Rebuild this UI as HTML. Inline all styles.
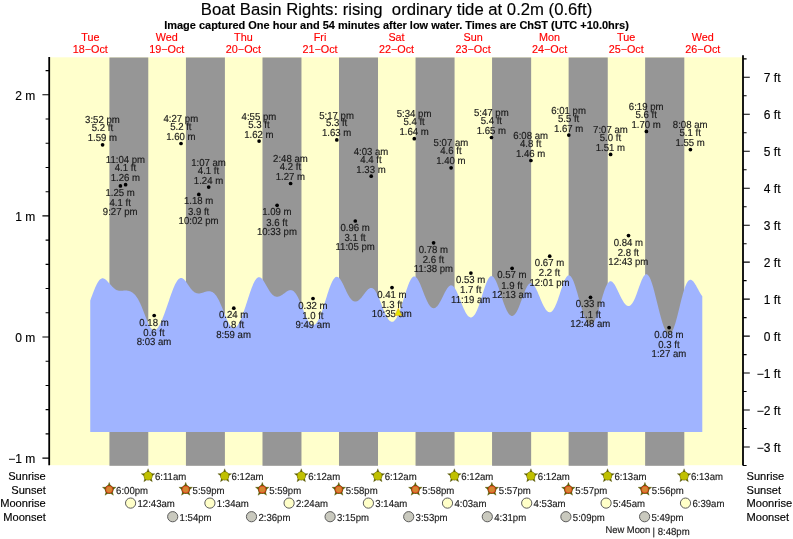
<!DOCTYPE html>
<html lang="en">
<head>
<meta charset="utf-8">
<title>Boat Basin Rights tide chart</title>
<style>
html,body{margin:0;padding:0;background:#fff;}
body{width:793px;height:539px;overflow:hidden;}
svg{display:block;}
text{font-family:"Liberation Sans", sans-serif;fill:#000;stroke:#000;stroke-width:0.15px;}
.t{font-size:16.7px;text-anchor:middle;white-space:pre;}
.s{font-size:10.97px;font-weight:bold;text-anchor:middle;}
.d{font-size:10.8px;fill:#ff0000;stroke:#ff0000;text-anchor:middle;}
.al{font-size:12px;text-anchor:end;}
.ar{font-size:12px;text-anchor:end;}
.rl{font-size:11.1px;text-anchor:end;}
.rr{font-size:11.1px;text-anchor:start;}
.a{font-size:9.6px;text-anchor:middle;fill:#1a1a1a;text-rendering:geometricPrecision;stroke:#1a1a1a;stroke-width:0.15px;}
.m{font-size:9.6px;text-anchor:start;fill:#1a1a1a;text-rendering:geometricPrecision;stroke:#1a1a1a;stroke-width:0.15px;}
.n{font-size:9.4px;text-anchor:end;fill:#1a1a1a;text-rendering:geometricPrecision;stroke:#1a1a1a;stroke-width:0.15px;}
</style>
</head>
<body>
<svg width="793" height="539" viewBox="0 0 793 539">
<rect x="0" y="0" width="793" height="539" fill="#ffffff"/>
<g>
<rect x="49.2" y="57.3" width="693.80" height="407.90" fill="#ffffcc"/>
<rect x="109.42" y="57.5" width="38.86" height="408.30" fill="#969696"/>
<rect x="185.93" y="57.5" width="38.97" height="408.30" fill="#969696"/>
<rect x="262.49" y="57.5" width="38.97" height="408.30" fill="#969696"/>
<rect x="338.99" y="57.5" width="39.02" height="408.30" fill="#969696"/>
<rect x="415.55" y="57.5" width="39.02" height="408.30" fill="#969696"/>
<rect x="492.06" y="57.5" width="39.08" height="408.30" fill="#969696"/>
<rect x="568.62" y="57.5" width="39.13" height="408.30" fill="#969696"/>
<rect x="645.13" y="57.5" width="39.18" height="408.30" fill="#969696"/>
</g>
<path d="M90.25,431.9L90.25,300.46L90.28,300.46L90.72,299.25L91.15,298.04L91.59,296.84L92.03,295.65L92.47,294.47L92.90,293.31L93.34,292.17L93.78,291.05L94.22,289.95L94.65,288.88L95.09,287.85L95.53,286.85L95.97,285.89L96.40,284.98L96.84,284.11L97.28,283.29L97.72,282.52L98.15,281.82L98.59,281.17L99.03,280.58L99.47,280.06L99.90,279.61L100.34,279.22L100.78,278.90L101.22,278.65L101.65,278.47L102.09,278.36L102.53,278.32L102.97,278.33L103.40,278.41L103.84,278.55L104.28,278.74L104.72,278.99L105.15,279.27L105.59,279.60L106.03,279.96L106.47,280.35L106.90,280.77L107.34,281.21L107.78,281.67L108.22,282.15L108.65,282.63L109.09,283.12L109.53,283.62L109.97,284.11L110.40,284.60L110.84,285.09L111.28,285.57L111.72,286.03L112.15,286.49L112.59,286.93L113.03,287.35L113.47,287.75L113.90,288.14L114.34,288.50L114.78,288.84L115.22,289.15L115.65,289.43L116.09,289.70L116.53,289.93L116.97,290.14L117.40,290.32L117.84,290.47L118.28,290.60L118.72,290.70L119.15,290.77L119.59,290.82L120.03,290.85L120.47,290.86L120.90,290.86L121.34,290.84L121.78,290.81L122.22,290.76L122.65,290.70L123.09,290.64L123.53,290.58L123.97,290.54L124.40,290.51L124.84,290.50L125.28,290.49L125.72,290.49L126.15,290.51L126.59,290.53L127.03,290.57L127.47,290.63L127.90,290.71L128.34,290.80L128.78,290.91L129.22,291.04L129.65,291.19L130.09,291.36L130.53,291.54L130.97,291.76L131.40,291.99L131.84,292.25L132.28,292.53L132.72,292.84L133.15,293.17L133.59,293.54L134.03,293.94L134.47,294.36L134.90,294.83L135.34,295.32L135.78,295.86L136.22,296.42L136.65,297.04L137.09,297.68L137.53,298.37L137.97,299.10L138.40,299.86L138.84,300.67L139.28,301.52L139.72,302.41L140.15,303.33L140.59,304.29L141.03,305.28L141.47,306.31L141.90,307.36L142.34,308.44L142.78,309.54L143.22,310.66L143.65,311.79L144.09,312.93L144.53,314.08L144.97,315.22L145.40,316.36L145.84,317.49L146.28,318.61L146.72,319.70L147.15,320.76L147.59,321.80L148.03,322.79L148.47,323.74L148.90,324.65L149.34,325.50L149.78,326.29L150.22,327.03L150.65,327.69L151.09,328.29L151.53,328.82L151.97,329.27L152.40,329.64L152.84,329.94L153.28,330.16L153.72,330.30L154.15,330.35L154.59,330.33L155.03,330.23L155.47,330.04L155.90,329.78L156.34,329.45L156.78,329.05L157.22,328.58L157.65,328.04L158.09,327.44L158.53,326.78L158.97,326.06L159.40,325.29L159.84,324.47L160.28,323.60L160.72,322.69L161.15,321.74L161.59,320.74L162.03,319.72L162.47,318.65L162.90,317.56L163.34,316.44L163.78,315.30L164.22,314.13L164.65,312.94L165.09,311.73L165.53,310.51L165.97,309.27L166.40,308.02L166.84,306.76L167.28,305.50L167.71,304.22L168.15,302.95L168.59,301.67L169.03,300.39L169.46,299.12L169.90,297.85L170.34,296.59L170.78,295.35L171.21,294.12L171.65,292.91L172.09,291.73L172.53,290.57L172.96,289.44L173.40,288.34L173.84,287.28L174.28,286.26L174.71,285.28L175.15,284.35L175.59,283.47L176.03,282.65L176.46,281.88L176.90,281.18L177.34,280.54L177.78,279.97L178.21,279.46L178.65,279.03L179.09,278.67L179.53,278.38L179.96,278.16L180.40,278.02L180.84,277.95L181.28,277.96L181.71,278.03L182.15,278.16L182.59,278.37L183.03,278.63L183.46,278.96L183.90,279.33L184.34,279.76L184.78,280.23L185.21,280.74L185.65,281.29L186.09,281.87L186.53,282.47L186.96,283.09L187.40,283.73L187.84,284.38L188.28,285.02L188.71,285.67L189.15,286.31L189.59,286.93L190.03,287.55L190.46,288.14L190.90,288.70L191.34,289.25L191.78,289.76L192.21,290.24L192.65,290.69L193.09,291.10L193.53,291.48L193.96,291.82L194.40,292.13L194.84,292.40L195.28,292.63L195.71,292.84L196.15,293.01L196.59,293.15L197.03,293.26L197.46,293.34L197.90,293.40L198.34,293.43L198.78,293.44L199.21,293.43L199.65,293.40L200.09,293.35L200.53,293.28L200.96,293.19L201.40,293.08L201.84,292.96L202.28,292.82L202.71,292.68L203.15,292.54L203.59,292.39L204.03,292.24L204.46,292.09L204.90,291.94L205.34,291.81L205.78,291.68L206.21,291.56L206.65,291.46L207.09,291.38L207.53,291.31L207.96,291.26L208.40,291.24L208.84,291.23L209.28,291.25L209.71,291.29L210.15,291.36L210.59,291.45L211.03,291.57L211.46,291.72L211.90,291.90L212.34,292.12L212.78,292.37L213.21,292.66L213.65,292.99L214.09,293.36L214.53,293.78L214.96,294.24L215.40,294.74L215.84,295.29L216.28,295.87L216.71,296.51L217.15,297.20L217.59,297.92L218.03,298.69L218.46,299.50L218.90,300.35L219.34,301.25L219.78,302.17L220.21,303.14L220.65,304.13L221.09,305.15L221.53,306.20L221.96,307.27L222.40,308.36L222.84,309.46L223.28,310.57L223.71,311.68L224.15,312.79L224.59,313.90L225.03,315.00L225.46,316.09L225.90,317.15L226.34,318.19L226.78,319.21L227.21,320.19L227.65,321.13L228.09,322.03L228.53,322.87L228.96,323.67L229.40,324.42L229.84,325.10L230.28,325.72L230.71,326.27L231.15,326.76L231.59,327.18L232.03,327.52L232.46,327.79L232.90,327.98L233.34,328.10L233.78,328.14L234.21,328.10L234.65,327.98L235.09,327.80L235.53,327.53L235.96,327.19L236.40,326.79L236.84,326.31L237.28,325.77L237.71,325.16L238.15,324.50L238.59,323.77L239.03,322.99L239.46,322.15L239.90,321.26L240.34,320.32L240.78,319.34L241.21,318.31L241.65,317.24L242.09,316.13L242.53,314.99L242.96,313.81L243.40,312.60L243.84,311.36L244.27,310.10L244.71,308.81L245.15,307.51L245.59,306.18L246.02,304.85L246.46,303.50L246.90,302.15L247.34,300.79L247.77,299.43L248.21,298.07L248.65,296.73L249.09,295.39L249.52,294.07L249.96,292.77L250.40,291.49L250.84,290.25L251.27,289.03L251.71,287.85L252.15,286.72L252.59,285.63L253.02,284.60L253.46,283.61L253.90,282.69L254.34,281.83L254.77,281.03L255.21,280.30L255.65,279.65L256.09,279.07L256.52,278.57L256.96,278.14L257.40,277.79L257.84,277.53L258.27,277.34L258.71,277.23L259.15,277.21L259.59,277.26L260.02,277.38L260.46,277.58L260.90,277.85L261.34,278.19L261.77,278.60L262.21,279.06L262.65,279.59L263.09,280.17L263.52,280.79L263.96,281.45L264.40,282.15L264.84,282.88L265.27,283.64L265.71,284.41L266.15,285.19L266.59,285.98L267.02,286.77L267.46,287.55L267.90,288.32L268.34,289.08L268.77,289.81L269.21,290.52L269.65,291.20L270.09,291.85L270.52,292.47L270.96,293.04L271.40,293.58L271.84,294.07L272.27,294.52L272.71,294.93L273.15,295.30L273.59,295.62L274.02,295.91L274.46,296.14L274.90,296.34L275.34,296.50L275.77,296.62L276.21,296.70L276.65,296.75L277.09,296.76L277.52,296.75L277.96,296.69L278.40,296.61L278.84,296.50L279.27,296.36L279.71,296.19L280.15,296.00L280.59,295.78L281.02,295.54L281.46,295.29L281.90,295.01L282.34,294.73L282.77,294.42L283.21,294.11L283.65,293.79L284.09,293.47L284.52,293.14L284.96,292.82L285.40,292.49L285.84,292.18L286.27,291.87L286.71,291.58L287.15,291.31L287.59,291.05L288.02,290.82L288.46,290.62L288.90,290.45L289.34,290.31L289.77,290.21L290.21,290.14L290.65,290.12L291.09,290.15L291.52,290.22L291.96,290.34L292.40,290.51L292.84,290.73L293.27,291.01L293.71,291.33L294.15,291.71L294.59,292.16L295.02,292.65L295.46,293.20L295.90,293.80L296.34,294.45L296.77,295.17L297.21,295.92L297.65,296.73L298.09,297.58L298.52,298.48L298.96,299.41L299.40,300.39L299.84,301.39L300.27,302.42L300.71,303.48L301.15,304.56L301.59,305.65L302.02,306.76L302.46,307.87L302.90,308.99L303.34,310.10L303.77,311.21L304.21,312.30L304.65,313.38L305.09,314.43L305.52,315.46L305.96,316.45L306.40,317.41L306.84,318.34L307.27,319.21L307.71,320.04L308.15,320.82L308.59,321.54L309.02,322.21L309.46,322.81L309.90,323.35L310.34,323.83L310.77,324.23L311.21,324.57L311.65,324.83L312.09,325.02L312.52,325.14L312.96,325.19L313.40,325.15L313.84,325.05L314.27,324.87L314.71,324.61L315.15,324.28L315.59,323.88L316.02,323.41L316.46,322.88L316.90,322.28L317.34,321.61L317.77,320.88L318.21,320.09L318.65,319.25L319.09,318.34L319.52,317.38L319.96,316.38L320.40,315.31L320.83,314.21L321.27,313.06L321.71,311.88L322.15,310.65L322.58,309.39L323.02,308.10L323.46,306.78L323.90,305.44L324.33,304.08L324.77,302.71L325.21,301.32L325.65,299.92L326.08,298.53L326.52,297.13L326.96,295.75L327.40,294.37L327.83,293.02L328.27,291.68L328.71,290.37L329.15,289.10L329.58,287.87L330.02,286.68L330.46,285.53L330.90,284.44L331.33,283.41L331.77,282.44L332.21,281.54L332.65,280.71L333.08,279.95L333.52,279.27L333.96,278.67L334.40,278.15L334.83,277.72L335.27,277.37L335.71,277.11L336.15,276.94L336.58,276.85L337.02,276.85L337.46,276.93L337.90,277.10L338.33,277.35L338.77,277.68L339.21,278.09L339.65,278.56L340.08,279.11L340.52,279.73L340.96,280.40L341.40,281.12L341.83,281.90L342.27,282.71L342.71,283.57L343.15,284.46L343.58,285.36L344.02,286.29L344.46,287.23L344.90,288.18L345.33,289.12L345.77,290.06L346.21,290.99L346.65,291.89L347.08,292.78L347.52,293.64L347.96,294.47L348.40,295.26L348.83,296.02L349.27,296.73L349.71,297.40L350.15,298.03L350.58,298.60L351.02,299.13L351.46,299.60L351.90,300.03L352.33,300.40L352.77,300.72L353.21,300.99L353.65,301.20L354.08,301.37L354.52,301.48L354.96,301.55L355.40,301.56L355.83,301.53L356.27,301.45L356.71,301.33L357.15,301.16L357.58,300.95L358.02,300.69L358.46,300.40L358.90,300.07L359.33,299.70L359.77,299.30L360.21,298.87L360.65,298.41L361.08,297.92L361.52,297.41L361.96,296.88L362.40,296.33L362.83,295.76L363.27,295.19L363.71,294.61L364.15,294.02L364.58,293.44L365.02,292.86L365.46,292.30L365.90,291.75L366.33,291.22L366.77,290.71L367.21,290.23L367.65,289.78L368.08,289.37L368.52,289.01L368.96,288.69L369.40,288.42L369.83,288.20L370.27,288.04L370.71,287.94L371.15,287.91L371.58,287.94L372.02,288.04L372.46,288.20L372.90,288.43L373.33,288.73L373.77,289.10L374.21,289.54L374.65,290.04L375.08,290.61L375.52,291.25L375.96,291.94L376.40,292.70L376.83,293.51L377.27,294.37L377.71,295.28L378.15,296.24L378.58,297.23L379.02,298.27L379.46,299.33L379.90,300.42L380.33,301.53L380.77,302.65L381.21,303.78L381.65,304.92L382.08,306.06L382.52,307.19L382.96,308.31L383.40,309.41L383.83,310.49L384.27,311.55L384.71,312.58L385.15,313.56L385.58,314.51L386.02,315.42L386.46,316.28L386.90,317.08L387.33,317.84L387.77,318.53L388.21,319.17L388.65,319.74L389.08,320.25L389.52,320.69L389.96,321.06L390.40,321.37L390.83,321.60L391.27,321.76L391.71,321.85L392.15,321.86L392.58,321.79L393.02,321.66L393.46,321.44L393.90,321.16L394.33,320.80L394.77,320.36L395.21,319.86L395.65,319.28L396.08,318.63L396.52,317.92L396.96,317.14L397.39,316.30L397.83,315.39L398.27,314.43L398.71,313.41L399.14,312.33L399.58,311.21L400.02,310.04L400.46,308.82L400.89,307.56L401.33,306.27L401.77,304.94L402.21,303.59L402.64,302.22L403.08,300.82L403.52,299.42L403.96,298.00L404.39,296.59L404.83,295.17L405.27,293.77L405.71,292.39L406.14,291.03L406.58,289.69L407.02,288.39L407.46,287.13L407.89,285.92L408.33,284.75L408.77,283.65L409.21,282.61L409.64,281.64L410.08,280.74L410.52,279.91L410.96,279.17L411.39,278.52L411.83,277.94L412.27,277.47L412.71,277.08L413.14,276.79L413.58,276.59L414.02,276.49L414.46,276.48L414.89,276.57L415.33,276.74L415.77,277.02L416.21,277.38L416.64,277.83L417.08,278.37L417.52,278.98L417.96,279.67L418.39,280.43L418.83,281.26L419.27,282.15L419.71,283.09L420.14,284.07L420.58,285.10L421.02,286.16L421.46,287.26L421.89,288.37L422.33,289.50L422.77,290.64L423.21,291.78L423.64,292.92L424.08,294.05L424.52,295.16L424.96,296.25L425.39,297.32L425.83,298.36L426.27,299.36L426.71,300.32L427.14,301.24L427.58,302.11L428.02,302.94L428.46,303.71L428.89,304.42L429.33,305.08L429.77,305.68L430.21,306.21L430.64,306.69L431.08,307.10L431.52,307.45L431.96,307.73L432.39,307.94L432.83,308.10L433.27,308.18L433.71,308.20L434.14,308.16L434.58,308.06L435.02,307.89L435.46,307.66L435.89,307.37L436.33,307.02L436.77,306.61L437.21,306.14L437.64,305.63L438.08,305.06L438.52,304.44L438.96,303.78L439.39,303.07L439.83,302.33L440.27,301.55L440.71,300.74L441.14,299.90L441.58,299.04L442.02,298.17L442.46,297.28L442.89,296.38L443.33,295.48L443.77,294.59L444.21,293.71L444.64,292.84L445.08,291.99L445.52,291.17L445.96,290.38L446.39,289.64L446.83,288.93L447.27,288.28L447.71,287.68L448.14,287.14L448.58,286.66L449.02,286.25L449.46,285.91L449.89,285.65L450.33,285.46L450.77,285.35L451.21,285.33L451.64,285.39L452.08,285.52L452.52,285.74L452.96,286.04L453.39,286.42L453.83,286.87L454.27,287.40L454.71,288.00L455.14,288.67L455.58,289.40L456.02,290.20L456.46,291.04L456.89,291.95L457.33,292.89L457.77,293.88L458.21,294.91L458.64,295.96L459.08,297.04L459.52,298.14L459.96,299.25L460.39,300.37L460.83,301.49L461.27,302.60L461.71,303.71L462.14,304.80L462.58,305.88L463.02,306.92L463.46,307.94L463.89,308.93L464.33,309.87L464.77,310.78L465.21,311.64L465.64,312.45L466.08,313.21L466.52,313.92L466.96,314.56L467.39,315.15L467.83,315.67L468.27,316.13L468.71,316.52L469.14,316.85L469.58,317.10L470.02,317.28L470.46,317.40L470.89,317.43L471.33,317.40L471.77,317.29L472.21,317.10L472.64,316.84L473.08,316.50L473.52,316.08L473.95,315.60L474.39,315.04L474.83,314.40L475.27,313.70L475.70,312.92L476.14,312.07L476.58,311.17L477.02,310.19L477.45,309.16L477.89,308.07L478.33,306.92L478.77,305.73L479.20,304.49L479.64,303.21L480.08,301.90L480.52,300.56L480.95,299.19L481.39,297.80L481.83,296.41L482.27,295.00L482.70,293.60L483.14,292.21L483.58,290.83L484.02,289.48L484.45,288.16L484.89,286.87L485.33,285.63L485.77,284.44L486.20,283.30L486.64,282.24L487.08,281.23L487.52,280.31L487.95,279.47L488.39,278.71L488.83,278.05L489.27,277.47L489.70,276.99L490.14,276.62L490.58,276.34L491.02,276.17L491.45,276.10L491.89,276.13L492.33,276.28L492.77,276.51L493.20,276.85L493.64,277.29L494.08,277.82L494.52,278.44L494.95,279.15L495.39,279.94L495.83,280.81L496.27,281.75L496.70,282.76L497.14,283.83L497.58,284.96L498.02,286.13L498.45,287.35L498.89,288.60L499.33,289.88L499.77,291.18L500.20,292.50L500.64,293.84L501.08,295.17L501.52,296.50L501.95,297.83L502.39,299.14L502.83,300.43L503.27,301.70L503.70,302.94L504.14,304.14L504.58,305.30L505.02,306.42L505.45,307.50L505.89,308.52L506.33,309.49L506.77,310.40L507.20,311.25L507.64,312.04L508.08,312.76L508.52,313.41L508.95,313.99L509.39,314.50L509.83,314.94L510.27,315.30L510.70,315.58L511.14,315.78L511.58,315.91L512.02,315.96L512.45,315.92L512.89,315.81L513.33,315.62L513.77,315.35L514.20,315.00L514.64,314.58L515.08,314.08L515.52,313.51L515.95,312.87L516.39,312.16L516.83,311.38L517.27,310.54L517.70,309.65L518.14,308.69L518.58,307.69L519.02,306.65L519.45,305.56L519.89,304.43L520.33,303.28L520.77,302.10L521.20,300.91L521.64,299.71L522.08,298.50L522.52,297.29L522.95,296.10L523.39,294.92L523.83,293.76L524.27,292.63L524.70,291.54L525.14,290.49L525.58,289.50L526.02,288.55L526.45,287.67L526.89,286.85L527.33,286.11L527.77,285.44L528.20,284.85L528.64,284.34L529.08,283.92L529.52,283.58L529.95,283.34L530.39,283.18L530.83,283.11L531.27,283.14L531.70,283.26L532.14,283.46L532.58,283.76L533.02,284.13L533.45,284.59L533.89,285.12L534.33,285.73L534.77,286.41L535.20,287.15L535.64,287.94L536.08,288.80L536.52,289.69L536.95,290.63L537.39,291.60L537.83,292.61L538.27,293.63L538.70,294.68L539.14,295.73L539.58,296.79L540.02,297.85L540.45,298.90L540.89,299.95L541.33,300.97L541.77,301.98L542.20,302.96L542.64,303.91L543.08,304.82L543.52,305.70L543.95,306.54L544.39,307.33L544.83,308.07L545.27,308.76L545.70,309.39L546.14,309.97L546.58,310.48L547.02,310.94L547.45,311.33L547.89,311.66L548.33,311.92L548.77,312.10L549.20,312.22L549.64,312.27L550.08,312.24L550.51,312.14L550.95,311.96L551.39,311.71L551.83,311.38L552.26,310.98L552.70,310.50L553.14,309.94L553.58,309.31L554.01,308.61L554.45,307.84L554.89,306.99L555.33,306.08L555.76,305.10L556.20,304.06L556.64,302.97L557.08,301.82L557.51,300.63L557.95,299.39L558.39,298.12L558.83,296.81L559.26,295.48L559.70,294.14L560.14,292.79L560.58,291.43L561.01,290.08L561.45,288.75L561.89,287.43L562.33,286.15L562.76,284.91L563.20,283.71L563.64,282.57L564.08,281.49L564.51,280.47L564.95,279.53L565.39,278.68L565.83,277.91L566.26,277.24L566.70,276.67L567.14,276.19L567.58,275.82L568.01,275.56L568.45,275.40L568.89,275.37L569.33,275.43L569.76,275.61L570.20,275.90L570.64,276.30L571.08,276.80L571.51,277.41L571.95,278.11L572.39,278.91L572.83,279.81L573.26,280.78L573.70,281.85L574.14,282.99L574.58,284.20L575.01,285.48L575.45,286.81L575.89,288.20L576.33,289.63L576.76,291.09L577.20,292.60L577.64,294.12L578.08,295.67L578.51,297.22L578.95,298.78L579.39,300.35L579.83,301.90L580.26,303.44L580.70,304.96L581.14,306.46L581.58,307.93L582.01,309.37L582.45,310.76L582.89,312.12L583.33,313.42L583.76,314.67L584.20,315.86L584.64,317.00L585.08,318.07L585.51,319.07L585.95,320.00L586.39,320.86L586.83,321.64L587.26,322.34L587.70,322.96L588.14,323.49L588.58,323.94L589.01,324.29L589.45,324.56L589.89,324.73L590.33,324.81L590.76,324.80L591.20,324.68L591.64,324.47L592.08,324.18L592.51,323.78L592.95,323.29L593.39,322.71L593.83,322.03L594.26,321.28L594.70,320.43L595.14,319.50L595.58,318.50L596.01,317.42L596.45,316.27L596.89,315.05L597.33,313.78L597.76,312.45L598.20,311.07L598.64,309.65L599.08,308.20L599.51,306.72L599.95,305.22L600.39,303.71L600.83,302.19L601.26,300.68L601.70,299.18L602.14,297.69L602.58,296.23L603.01,294.81L603.45,293.42L603.89,292.09L604.33,290.81L604.76,289.59L605.20,288.43L605.64,287.35L606.08,286.35L606.51,285.43L606.95,284.60L607.39,283.85L607.83,283.20L608.26,282.64L608.70,282.17L609.14,281.81L609.58,281.53L610.01,281.36L610.45,281.28L610.89,281.28L611.33,281.39L611.76,281.58L612.20,281.85L612.64,282.21L613.08,282.64L613.51,283.15L613.95,283.73L614.39,284.36L614.83,285.05L615.26,285.79L615.70,286.57L616.14,287.40L616.58,288.25L617.01,289.13L617.45,290.04L617.89,290.96L618.33,291.88L618.76,292.82L619.20,293.75L619.64,294.67L620.08,295.59L620.51,296.49L620.95,297.37L621.39,298.23L621.83,299.05L622.26,299.85L622.70,300.62L623.14,301.34L623.58,302.02L624.01,302.66L624.45,303.25L624.89,303.79L625.33,304.27L625.76,304.70L626.20,305.08L626.64,305.39L627.07,305.64L627.51,305.82L627.95,305.94L628.39,305.99L628.82,305.97L629.26,305.88L629.70,305.73L630.14,305.49L630.57,305.19L631.01,304.81L631.45,304.36L631.89,303.84L632.32,303.24L632.76,302.57L633.20,301.83L633.64,301.02L634.07,300.15L634.51,299.22L634.95,298.22L635.39,297.18L635.82,296.09L636.26,294.95L636.70,293.77L637.14,292.57L637.57,291.34L638.01,290.10L638.45,288.85L638.89,287.60L639.32,286.35L639.76,285.13L640.20,283.93L640.64,282.77L641.07,281.65L641.51,280.58L641.95,279.57L642.39,278.63L642.82,277.76L643.26,276.98L643.70,276.28L644.14,275.68L644.57,275.18L645.01,274.78L645.45,274.50L645.89,274.32L646.32,274.25L646.76,274.31L647.20,274.47L647.64,274.76L648.07,275.16L648.51,275.66L648.95,276.29L649.39,277.03L649.82,277.86L650.26,278.81L650.70,279.85L651.14,280.98L651.57,282.21L652.01,283.51L652.45,284.89L652.89,286.34L653.32,287.85L653.76,289.43L654.20,291.05L654.64,292.72L655.07,294.42L655.51,296.15L655.95,297.91L656.39,299.68L656.82,301.46L657.26,303.25L657.70,305.03L658.14,306.81L658.57,308.57L659.01,310.31L659.45,312.02L659.89,313.71L660.32,315.36L660.76,316.96L661.20,318.52L661.64,320.03L662.07,321.48L662.51,322.88L662.95,324.20L663.39,325.47L663.82,326.66L664.26,327.77L664.70,328.80L665.14,329.76L665.57,330.62L666.01,331.40L666.45,332.08L666.89,332.66L667.32,333.15L667.76,333.53L668.20,333.81L668.64,333.98L669.07,334.04L669.51,333.99L669.95,333.84L670.39,333.56L670.82,333.19L671.26,332.69L671.70,332.09L672.14,331.39L672.57,330.57L673.01,329.66L673.45,328.64L673.89,327.53L674.32,326.33L674.76,325.03L675.20,323.66L675.64,322.21L676.07,320.69L676.51,319.11L676.95,317.47L677.39,315.79L677.82,314.06L678.26,312.30L678.70,310.51L679.14,308.72L679.57,306.91L680.01,305.10L680.45,303.31L680.89,301.53L681.32,299.78L681.76,298.06L682.20,296.39L682.64,294.77L683.07,293.20L683.51,291.71L683.95,290.27L684.39,288.93L684.82,287.66L685.26,286.47L685.70,285.38L686.14,284.38L686.57,283.48L687.01,282.68L687.45,281.97L687.89,281.37L688.32,280.86L688.76,280.45L689.20,280.15L689.64,279.94L690.07,279.82L690.51,279.79L690.95,279.85L691.39,280.00L691.82,280.23L692.26,280.53L692.70,280.91L693.14,281.35L693.57,281.85L694.01,282.41L694.45,283.02L694.89,283.68L695.32,284.38L695.76,285.10L696.20,285.86L696.64,286.64L697.07,287.43L697.51,288.23L697.95,289.04L698.39,289.84L698.82,290.64L699.26,291.44L699.70,292.21L700.14,292.97L700.57,293.71L701.01,294.42L701.45,295.11L701.89,295.76L702.3,296.34L702.3,431.9Z" fill="#a0b4ff"/>
<g stroke="#000" fill="none">
<path d="M49.2,57.0V465.2" stroke-width="1.8"/>
<path d="M743.0,55.3V465.5" stroke-width="1.8"/>
<path d="M49.20,458.10h-6.8M49.20,433.88h-3.6M49.20,409.66h-3.6M49.20,385.44h-3.6M49.20,361.22h-3.6M49.20,337.00h-6.8M49.20,312.78h-3.6M49.20,288.56h-3.6M49.20,264.34h-3.6M49.20,240.12h-3.6M49.20,215.90h-6.8M49.20,191.68h-3.6M49.20,167.46h-3.6M49.20,143.24h-3.6M49.20,119.02h-3.6M49.20,94.80h-6.8M49.20,70.58h-3.6M743.00,465.50h3.6M743.00,447.01h6.8M743.00,428.53h3.6M743.00,410.04h6.8M743.00,391.56h3.6M743.00,373.07h6.8M743.00,354.59h3.6M743.00,336.10h6.8M743.00,317.62h3.6M743.00,299.13h6.8M743.00,280.65h3.6M743.00,262.16h6.8M743.00,243.68h3.6M743.00,225.19h6.8M743.00,206.71h3.6M743.00,188.22h6.8M743.00,169.74h3.6M743.00,151.25h6.8M743.00,132.77h3.6M743.00,114.28h6.8M743.00,95.80h3.6M743.00,77.31h6.8M743.00,58.83h3.6" stroke-width="1.1"/>
</g>
<text class="al" x="35.3" y="463.1">−1 m</text>
<text class="al" x="35.3" y="342.0">0 m</text>
<text class="al" x="35.3" y="220.9">1 m</text>
<text class="al" x="35.3" y="99.8">2 m</text>
<text class="ar" x="780.5" y="452.0">−3 ft</text>
<text class="ar" x="780.5" y="415.0">−2 ft</text>
<text class="ar" x="780.5" y="378.1">−1 ft</text>
<text class="ar" x="780.5" y="341.1">0 ft</text>
<text class="ar" x="780.5" y="304.1">1 ft</text>
<text class="ar" x="780.5" y="267.2">2 ft</text>
<text class="ar" x="780.5" y="230.2">3 ft</text>
<text class="ar" x="780.5" y="193.2">4 ft</text>
<text class="ar" x="780.5" y="156.3">5 ft</text>
<text class="ar" x="780.5" y="119.3">6 ft</text>
<text class="ar" x="780.5" y="82.3">7 ft</text>
<text class="t" x="396.5" y="14.7" xml:space="preserve">Boat Basin Rights: rising  ordinary tide at 0.2m (0.6ft)</text>
<text class="s" x="396.5" y="28.6">Image captured One hour and 54 minutes after low water. Times are ChST (UTC +10.0hrs)</text>
<text class="d" transform="translate(90.3 41.2) scale(1 1.08)">Tue</text>
<text class="d" x="90.3" y="52.8">18−Oct</text>
<text class="d" transform="translate(166.8 41.2) scale(1 1.08)">Wed</text>
<text class="d" x="166.8" y="52.8">19−Oct</text>
<text class="d" transform="translate(243.4 41.2) scale(1 1.08)">Thu</text>
<text class="d" x="243.4" y="52.8">20−Oct</text>
<text class="d" transform="translate(320.0 41.2) scale(1 1.08)">Fri</text>
<text class="d" x="320.0" y="52.8">21−Oct</text>
<text class="d" transform="translate(396.5 41.2) scale(1 1.08)">Sat</text>
<text class="d" x="396.5" y="52.8">22−Oct</text>
<text class="d" transform="translate(473.1 41.2) scale(1 1.08)">Sun</text>
<text class="d" x="473.1" y="52.8">23−Oct</text>
<text class="d" transform="translate(549.6 41.2) scale(1 1.08)">Mon</text>
<text class="d" x="549.6" y="52.8">24−Oct</text>
<text class="d" transform="translate(626.2 41.2) scale(1 1.08)">Tue</text>
<text class="d" x="626.2" y="52.8">25−Oct</text>
<text class="d" transform="translate(702.8 41.2) scale(1 1.08)">Wed</text>
<text class="d" x="702.8" y="52.8">26−Oct</text>
<circle cx="102.6" cy="144.8" r="1.85" fill="#000"/>
<text class="a" transform="translate(102.4 141.2) scale(1 1.06)">1.59 m</text>
<text class="a" transform="translate(102.4 131.3) scale(1 1.06)">5.2 ft</text>
<text class="a" transform="translate(102.4 123.4) scale(1 1.06)">3:52 pm</text>
<circle cx="120.4" cy="185.9" r="1.85" fill="#000"/>
<text class="a" transform="translate(120.2 195.9) scale(1 1.06)">1.25 m</text>
<text class="a" transform="translate(120.2 206.1) scale(1 1.06)">4.1 ft</text>
<text class="a" transform="translate(120.2 215.3) scale(1 1.06)">9:27 pm</text>
<circle cx="125.6" cy="184.7" r="1.85" fill="#000"/>
<text class="a" transform="translate(125.4 181.1) scale(1 1.06)">1.26 m</text>
<text class="a" transform="translate(125.4 171.2) scale(1 1.06)">4.1 ft</text>
<text class="a" transform="translate(125.4 163.3) scale(1 1.06)">11:04 pm</text>
<circle cx="154.2" cy="315.5" r="1.85" fill="#000"/>
<text class="a" transform="translate(154.0 325.5) scale(1 1.06)">0.18 m</text>
<text class="a" transform="translate(154.0 335.7) scale(1 1.06)">0.6 ft</text>
<text class="a" transform="translate(154.0 344.9) scale(1 1.06)">8:03 am</text>
<circle cx="181.0" cy="143.5" r="1.85" fill="#000"/>
<text class="a" transform="translate(180.8 139.9) scale(1 1.06)">1.60 m</text>
<text class="a" transform="translate(180.8 130.0) scale(1 1.06)">5.2 ft</text>
<text class="a" transform="translate(180.8 122.1) scale(1 1.06)">4:27 pm</text>
<circle cx="198.8" cy="194.4" r="1.85" fill="#000"/>
<text class="a" transform="translate(198.6 204.4) scale(1 1.06)">1.18 m</text>
<text class="a" transform="translate(198.6 214.6) scale(1 1.06)">3.9 ft</text>
<text class="a" transform="translate(198.6 223.8) scale(1 1.06)">10:02 pm</text>
<circle cx="208.7" cy="187.1" r="1.85" fill="#000"/>
<text class="a" transform="translate(208.5 183.5) scale(1 1.06)">1.24 m</text>
<text class="a" transform="translate(208.5 173.6) scale(1 1.06)">4.1 ft</text>
<text class="a" transform="translate(208.5 165.7) scale(1 1.06)">1:07 am</text>
<circle cx="233.8" cy="308.2" r="1.85" fill="#000"/>
<text class="a" transform="translate(233.6 318.2) scale(1 1.06)">0.24 m</text>
<text class="a" transform="translate(233.6 328.4) scale(1 1.06)">0.8 ft</text>
<text class="a" transform="translate(233.6 337.6) scale(1 1.06)">8:59 am</text>
<circle cx="259.1" cy="141.1" r="1.85" fill="#000"/>
<text class="a" transform="translate(258.9 137.5) scale(1 1.06)">1.62 m</text>
<text class="a" transform="translate(258.9 127.6) scale(1 1.06)">5.3 ft</text>
<text class="a" transform="translate(258.9 119.7) scale(1 1.06)">4:55 pm</text>
<circle cx="277.1" cy="205.3" r="1.85" fill="#000"/>
<text class="a" transform="translate(276.9 215.3) scale(1 1.06)">1.09 m</text>
<text class="a" transform="translate(276.9 225.5) scale(1 1.06)">3.6 ft</text>
<text class="a" transform="translate(276.9 234.7) scale(1 1.06)">10:33 pm</text>
<circle cx="290.6" cy="183.5" r="1.85" fill="#000"/>
<text class="a" transform="translate(290.4 179.9) scale(1 1.06)">1.27 m</text>
<text class="a" transform="translate(290.4 170.0) scale(1 1.06)">4.2 ft</text>
<text class="a" transform="translate(290.4 162.1) scale(1 1.06)">2:48 am</text>
<circle cx="313.0" cy="298.5" r="1.85" fill="#000"/>
<text class="a" transform="translate(312.8 308.5) scale(1 1.06)">0.32 m</text>
<text class="a" transform="translate(312.8 318.7) scale(1 1.06)">1.0 ft</text>
<text class="a" transform="translate(312.8 327.9) scale(1 1.06)">9:49 am</text>
<circle cx="336.8" cy="139.9" r="1.85" fill="#000"/>
<text class="a" transform="translate(336.6 136.3) scale(1 1.06)">1.63 m</text>
<text class="a" transform="translate(336.6 126.4) scale(1 1.06)">5.3 ft</text>
<text class="a" transform="translate(336.6 118.5) scale(1 1.06)">5:17 pm</text>
<circle cx="355.3" cy="221.0" r="1.85" fill="#000"/>
<text class="a" transform="translate(355.1 231.0) scale(1 1.06)">0.96 m</text>
<text class="a" transform="translate(355.1 241.2) scale(1 1.06)">3.1 ft</text>
<text class="a" transform="translate(355.1 250.4) scale(1 1.06)">11:05 pm</text>
<circle cx="371.2" cy="176.2" r="1.85" fill="#000"/>
<text class="a" transform="translate(371.0 172.6) scale(1 1.06)">1.33 m</text>
<text class="a" transform="translate(371.0 162.7) scale(1 1.06)">4.4 ft</text>
<text class="a" transform="translate(371.0 154.8) scale(1 1.06)">4:03 am</text>
<circle cx="392.0" cy="287.6" r="1.85" fill="#000"/>
<text class="a" transform="translate(391.8 297.6) scale(1 1.06)">0.41 m</text>
<text class="a" transform="translate(391.8 307.8) scale(1 1.06)">1.3 ft</text>
<text class="a" transform="translate(391.8 317.0) scale(1 1.06)">10:35 am</text>
<circle cx="414.3" cy="138.7" r="1.85" fill="#000"/>
<text class="a" transform="translate(414.1 135.1) scale(1 1.06)">1.64 m</text>
<text class="a" transform="translate(414.1 125.2) scale(1 1.06)">5.4 ft</text>
<text class="a" transform="translate(414.1 117.3) scale(1 1.06)">5:34 pm</text>
<circle cx="433.6" cy="242.8" r="1.85" fill="#000"/>
<text class="a" transform="translate(433.4 252.8) scale(1 1.06)">0.78 m</text>
<text class="a" transform="translate(433.4 263.0) scale(1 1.06)">2.6 ft</text>
<text class="a" transform="translate(433.4 272.2) scale(1 1.06)">11:38 pm</text>
<circle cx="451.1" cy="167.8" r="1.85" fill="#000"/>
<text class="a" transform="translate(450.9 164.2) scale(1 1.06)">1.40 m</text>
<text class="a" transform="translate(450.9 154.3) scale(1 1.06)">4.6 ft</text>
<text class="a" transform="translate(450.9 146.4) scale(1 1.06)">5:07 am</text>
<circle cx="470.9" cy="273.1" r="1.85" fill="#000"/>
<text class="a" transform="translate(470.7 283.1) scale(1 1.06)">0.53 m</text>
<text class="a" transform="translate(470.7 293.3) scale(1 1.06)">1.7 ft</text>
<text class="a" transform="translate(470.7 302.5) scale(1 1.06)">11:19 am</text>
<circle cx="491.5" cy="137.5" r="1.85" fill="#000"/>
<text class="a" transform="translate(491.3 133.9) scale(1 1.06)">1.65 m</text>
<text class="a" transform="translate(491.3 124.0) scale(1 1.06)">5.4 ft</text>
<text class="a" transform="translate(491.3 116.1) scale(1 1.06)">5:47 pm</text>
<circle cx="512.1" cy="268.3" r="1.85" fill="#000"/>
<text class="a" transform="translate(511.9 278.3) scale(1 1.06)">0.57 m</text>
<text class="a" transform="translate(511.9 288.5) scale(1 1.06)">1.9 ft</text>
<text class="a" transform="translate(511.9 297.7) scale(1 1.06)">12:13 am</text>
<circle cx="530.9" cy="160.5" r="1.85" fill="#000"/>
<text class="a" transform="translate(530.7 156.9) scale(1 1.06)">1.46 m</text>
<text class="a" transform="translate(530.7 147.0) scale(1 1.06)">4.8 ft</text>
<text class="a" transform="translate(530.7 139.1) scale(1 1.06)">6:08 am</text>
<circle cx="549.7" cy="256.2" r="1.85" fill="#000"/>
<text class="a" transform="translate(549.5 266.2) scale(1 1.06)">0.67 m</text>
<text class="a" transform="translate(549.5 276.4) scale(1 1.06)">2.2 ft</text>
<text class="a" transform="translate(549.5 285.6) scale(1 1.06)">12:01 pm</text>
<circle cx="568.8" cy="135.1" r="1.85" fill="#000"/>
<text class="a" transform="translate(568.6 131.5) scale(1 1.06)">1.67 m</text>
<text class="a" transform="translate(568.6 121.6) scale(1 1.06)">5.5 ft</text>
<text class="a" transform="translate(568.6 113.7) scale(1 1.06)">6:01 pm</text>
<circle cx="590.5" cy="297.3" r="1.85" fill="#000"/>
<text class="a" transform="translate(590.3 307.3) scale(1 1.06)">0.33 m</text>
<text class="a" transform="translate(590.3 317.5) scale(1 1.06)">1.1 ft</text>
<text class="a" transform="translate(590.3 326.7) scale(1 1.06)">12:48 am</text>
<circle cx="610.6" cy="154.4" r="1.85" fill="#000"/>
<text class="a" transform="translate(610.4 150.8) scale(1 1.06)">1.51 m</text>
<text class="a" transform="translate(610.4 140.9) scale(1 1.06)">5.0 ft</text>
<text class="a" transform="translate(610.4 133.0) scale(1 1.06)">7:07 am</text>
<circle cx="628.5" cy="235.6" r="1.85" fill="#000"/>
<text class="a" transform="translate(628.3 245.6) scale(1 1.06)">0.84 m</text>
<text class="a" transform="translate(628.3 255.8) scale(1 1.06)">2.8 ft</text>
<text class="a" transform="translate(628.3 265.0) scale(1 1.06)">12:43 pm</text>
<circle cx="646.4" cy="131.4" r="1.85" fill="#000"/>
<text class="a" transform="translate(646.2 127.8) scale(1 1.06)">1.70 m</text>
<text class="a" transform="translate(646.2 117.9) scale(1 1.06)">5.6 ft</text>
<text class="a" transform="translate(646.2 110.0) scale(1 1.06)">6:19 pm</text>
<circle cx="669.1" cy="327.6" r="1.85" fill="#000"/>
<text class="a" transform="translate(668.9 337.6) scale(1 1.06)">0.08 m</text>
<text class="a" transform="translate(668.9 347.8) scale(1 1.06)">0.3 ft</text>
<text class="a" transform="translate(668.9 357.0) scale(1 1.06)">1:27 am</text>
<circle cx="690.4" cy="149.6" r="1.85" fill="#000"/>
<text class="a" transform="translate(690.2 146.0) scale(1 1.06)">1.55 m</text>
<text class="a" transform="translate(690.2 136.1) scale(1 1.06)">5.1 ft</text>
<text class="a" transform="translate(690.2 128.2) scale(1 1.06)">8:08 am</text>
<polygon points="398.3,308.13 394.70,315.53 401.90,315.53" fill="#e4e400" stroke="#d88a20" stroke-width="0.4"/>
<text class="rl" x="45.8" y="480.0">Sunrise</text>
<text class="rr" x="746.5" y="480.0">Sunrise</text>
<polygon points="148.08,468.70 149.85,473.47 154.93,473.68 150.94,476.83 152.32,481.72 148.08,478.90 143.85,481.72 145.23,476.83 141.24,473.68 146.32,473.47" fill="#5a5a00" stroke="#5a5a00" stroke-width="0.3" stroke-linejoin="miter"/>
<circle cx="148.1" cy="475.9" r="4.5" fill="#6e6e08"/>
<circle cx="148.1" cy="475.9" r="3.9" fill="#c0c000"/>
<text class="m" transform="translate(155.0 480.0) scale(1 1.06)">6:11am</text>
<polygon points="224.70,468.70 226.46,473.47 231.55,473.68 227.55,476.83 228.93,481.72 224.70,478.90 220.47,481.72 221.84,476.83 217.85,473.68 222.93,473.47" fill="#5a5a00" stroke="#5a5a00" stroke-width="0.3" stroke-linejoin="miter"/>
<circle cx="224.7" cy="475.9" r="4.5" fill="#6e6e08"/>
<circle cx="224.7" cy="475.9" r="3.9" fill="#c0c000"/>
<text class="m" transform="translate(231.6 480.0) scale(1 1.06)">6:12am</text>
<polygon points="301.26,468.70 303.02,473.47 308.11,473.68 304.11,476.83 305.49,481.72 301.26,478.90 297.03,481.72 298.40,476.83 294.41,473.68 299.49,473.47" fill="#5a5a00" stroke="#5a5a00" stroke-width="0.3" stroke-linejoin="miter"/>
<circle cx="301.3" cy="475.9" r="4.5" fill="#6e6e08"/>
<circle cx="301.3" cy="475.9" r="3.9" fill="#c0c000"/>
<text class="m" transform="translate(308.2 480.0) scale(1 1.06)">6:12am</text>
<polygon points="377.82,468.70 379.58,473.47 384.67,473.68 380.67,476.83 382.05,481.72 377.82,478.90 373.59,481.72 374.96,476.83 370.97,473.68 376.05,473.47" fill="#5a5a00" stroke="#5a5a00" stroke-width="0.3" stroke-linejoin="miter"/>
<circle cx="377.8" cy="475.9" r="4.5" fill="#6e6e08"/>
<circle cx="377.8" cy="475.9" r="3.9" fill="#c0c000"/>
<text class="m" transform="translate(384.7 480.0) scale(1 1.06)">6:12am</text>
<polygon points="454.38,468.70 456.14,473.47 461.23,473.68 457.23,476.83 458.61,481.72 454.38,478.90 450.15,481.72 451.52,476.83 447.53,473.68 452.61,473.47" fill="#5a5a00" stroke="#5a5a00" stroke-width="0.3" stroke-linejoin="miter"/>
<circle cx="454.4" cy="475.9" r="4.5" fill="#6e6e08"/>
<circle cx="454.4" cy="475.9" r="3.9" fill="#c0c000"/>
<text class="m" transform="translate(461.3 480.0) scale(1 1.06)">6:12am</text>
<polygon points="530.94,468.70 532.70,473.47 537.79,473.68 533.79,476.83 535.17,481.72 530.94,478.90 526.71,481.72 528.08,476.83 524.09,473.68 529.17,473.47" fill="#5a5a00" stroke="#5a5a00" stroke-width="0.3" stroke-linejoin="miter"/>
<circle cx="530.9" cy="475.9" r="4.5" fill="#6e6e08"/>
<circle cx="530.9" cy="475.9" r="3.9" fill="#c0c000"/>
<text class="m" transform="translate(537.8 480.0) scale(1 1.06)">6:12am</text>
<polygon points="607.55,468.70 609.31,473.47 614.40,473.68 610.40,476.83 611.78,481.72 607.55,478.90 603.32,481.72 604.70,476.83 600.70,473.68 605.79,473.47" fill="#5a5a00" stroke="#5a5a00" stroke-width="0.3" stroke-linejoin="miter"/>
<circle cx="607.6" cy="475.9" r="4.5" fill="#6e6e08"/>
<circle cx="607.6" cy="475.9" r="3.9" fill="#c0c000"/>
<text class="m" transform="translate(614.5 480.0) scale(1 1.06)">6:13am</text>
<polygon points="684.11,468.70 685.87,473.47 690.96,473.68 686.96,476.83 688.34,481.72 684.11,478.90 679.88,481.72 681.26,476.83 677.26,473.68 682.35,473.47" fill="#5a5a00" stroke="#5a5a00" stroke-width="0.3" stroke-linejoin="miter"/>
<circle cx="684.1" cy="475.9" r="4.5" fill="#6e6e08"/>
<circle cx="684.1" cy="475.9" r="3.9" fill="#c0c000"/>
<text class="m" transform="translate(691.0 480.0) scale(1 1.06)">6:13am</text>
<text class="rl" x="45.8" y="493.6">Sunset</text>
<text class="rr" x="746.5" y="493.6">Sunset</text>
<polygon points="109.22,482.30 110.98,487.07 116.07,487.28 112.07,490.43 113.45,495.32 109.22,492.50 104.99,495.32 106.37,490.43 102.37,487.28 107.46,487.07" fill="#5a5a00" stroke="#5a5a00" stroke-width="0.3" stroke-linejoin="miter"/>
<circle cx="109.2" cy="489.5" r="4.4" fill="#5a5a00"/>
<circle cx="109.2" cy="489.5" r="3.7" fill="#e23a22"/>
<circle cx="109.2" cy="489.5" r="2.9" fill="#d5872f"/>
<text class="m" transform="translate(116.1 493.6) scale(1 1.06)">6:00pm</text>
<polygon points="185.73,482.30 187.49,487.07 192.57,487.28 188.58,490.43 189.96,495.32 185.73,492.50 181.49,495.32 182.87,490.43 178.88,487.28 183.96,487.07" fill="#5a5a00" stroke="#5a5a00" stroke-width="0.3" stroke-linejoin="miter"/>
<circle cx="185.7" cy="489.5" r="4.4" fill="#5a5a00"/>
<circle cx="185.7" cy="489.5" r="3.7" fill="#e23a22"/>
<circle cx="185.7" cy="489.5" r="2.9" fill="#d5872f"/>
<text class="m" transform="translate(192.6 493.6) scale(1 1.06)">5:59pm</text>
<polygon points="262.29,482.30 264.05,487.07 269.13,487.28 265.14,490.43 266.52,495.32 262.29,492.50 258.05,495.32 259.43,490.43 255.44,487.28 260.52,487.07" fill="#5a5a00" stroke="#5a5a00" stroke-width="0.3" stroke-linejoin="miter"/>
<circle cx="262.3" cy="489.5" r="4.4" fill="#5a5a00"/>
<circle cx="262.3" cy="489.5" r="3.7" fill="#e23a22"/>
<circle cx="262.3" cy="489.5" r="2.9" fill="#d5872f"/>
<text class="m" transform="translate(269.2 493.6) scale(1 1.06)">5:59pm</text>
<polygon points="338.79,482.30 340.56,487.07 345.64,487.28 341.65,490.43 343.03,495.32 338.79,492.50 334.56,495.32 335.94,490.43 331.95,487.28 337.03,487.07" fill="#5a5a00" stroke="#5a5a00" stroke-width="0.3" stroke-linejoin="miter"/>
<circle cx="338.8" cy="489.5" r="4.4" fill="#5a5a00"/>
<circle cx="338.8" cy="489.5" r="3.7" fill="#e23a22"/>
<circle cx="338.8" cy="489.5" r="2.9" fill="#d5872f"/>
<text class="m" transform="translate(345.7 493.6) scale(1 1.06)">5:58pm</text>
<polygon points="415.35,482.30 417.12,487.07 422.20,487.28 418.21,490.43 419.59,495.32 415.35,492.50 411.12,495.32 412.50,490.43 408.51,487.28 413.59,487.07" fill="#5a5a00" stroke="#5a5a00" stroke-width="0.3" stroke-linejoin="miter"/>
<circle cx="415.4" cy="489.5" r="4.4" fill="#5a5a00"/>
<circle cx="415.4" cy="489.5" r="3.7" fill="#e23a22"/>
<circle cx="415.4" cy="489.5" r="2.9" fill="#d5872f"/>
<text class="m" transform="translate(422.3 493.6) scale(1 1.06)">5:58pm</text>
<polygon points="491.86,482.30 493.62,487.07 498.71,487.28 494.71,490.43 496.09,495.32 491.86,492.50 487.63,495.32 489.01,490.43 485.01,487.28 490.10,487.07" fill="#5a5a00" stroke="#5a5a00" stroke-width="0.3" stroke-linejoin="miter"/>
<circle cx="491.9" cy="489.5" r="4.4" fill="#5a5a00"/>
<circle cx="491.9" cy="489.5" r="3.7" fill="#e23a22"/>
<circle cx="491.9" cy="489.5" r="2.9" fill="#d5872f"/>
<text class="m" transform="translate(498.8 493.6) scale(1 1.06)">5:57pm</text>
<polygon points="568.42,482.30 570.18,487.07 575.27,487.28 571.27,490.43 572.65,495.32 568.42,492.50 564.19,495.32 565.57,490.43 561.57,487.28 566.66,487.07" fill="#5a5a00" stroke="#5a5a00" stroke-width="0.3" stroke-linejoin="miter"/>
<circle cx="568.4" cy="489.5" r="4.4" fill="#5a5a00"/>
<circle cx="568.4" cy="489.5" r="3.7" fill="#e23a22"/>
<circle cx="568.4" cy="489.5" r="2.9" fill="#d5872f"/>
<text class="m" transform="translate(575.3 493.6) scale(1 1.06)">5:57pm</text>
<polygon points="644.93,482.30 646.69,487.07 651.77,487.28 647.78,490.43 649.16,495.32 644.93,492.50 640.70,495.32 642.07,490.43 638.08,487.28 643.16,487.07" fill="#5a5a00" stroke="#5a5a00" stroke-width="0.3" stroke-linejoin="miter"/>
<circle cx="644.9" cy="489.5" r="4.4" fill="#5a5a00"/>
<circle cx="644.9" cy="489.5" r="3.7" fill="#e23a22"/>
<circle cx="644.9" cy="489.5" r="2.9" fill="#d5872f"/>
<text class="m" transform="translate(651.8 493.6) scale(1 1.06)">5:56pm</text>
<text class="rl" x="45.8" y="507.2">Moonrise</text>
<text class="rr" x="746.5" y="507.2">Moonrise</text>
<circle cx="130.6" cy="503.1" r="5.1" fill="#ffffc8" stroke="#5c5c5c" stroke-width="1.0"/>
<text class="m" transform="translate(137.5 507.2) scale(1 1.06)">12:43am</text>
<circle cx="209.9" cy="503.1" r="5.1" fill="#ffffc8" stroke="#5c5c5c" stroke-width="1.0"/>
<text class="m" transform="translate(216.8 507.2) scale(1 1.06)">1:34am</text>
<circle cx="289.1" cy="503.1" r="5.1" fill="#ffffc8" stroke="#5c5c5c" stroke-width="1.0"/>
<text class="m" transform="translate(296.0 507.2) scale(1 1.06)">2:24am</text>
<circle cx="368.4" cy="503.1" r="5.1" fill="#ffffc8" stroke="#5c5c5c" stroke-width="1.0"/>
<text class="m" transform="translate(375.3 507.2) scale(1 1.06)">3:14am</text>
<circle cx="447.5" cy="503.1" r="5.1" fill="#ffffc8" stroke="#5c5c5c" stroke-width="1.0"/>
<text class="m" transform="translate(454.4 507.2) scale(1 1.06)">4:03am</text>
<circle cx="526.7" cy="503.1" r="5.1" fill="#ffffc8" stroke="#5c5c5c" stroke-width="1.0"/>
<text class="m" transform="translate(533.6 507.2) scale(1 1.06)">4:53am</text>
<circle cx="606.1" cy="503.1" r="5.1" fill="#ffffc8" stroke="#5c5c5c" stroke-width="1.0"/>
<text class="m" transform="translate(613.0 507.2) scale(1 1.06)">5:45am</text>
<circle cx="685.5" cy="503.1" r="5.1" fill="#ffffc8" stroke="#5c5c5c" stroke-width="1.0"/>
<text class="m" transform="translate(692.4 507.2) scale(1 1.06)">6:39am</text>
<text class="rl" x="45.8" y="520.8">Moonset</text>
<text class="rr" x="746.5" y="520.8">Moonset</text>
<circle cx="172.7" cy="516.7" r="5.1" fill="#c9c9be" stroke="#5c5c5c" stroke-width="1.0"/>
<text class="m" transform="translate(179.6 520.8) scale(1 1.06)">1:54pm</text>
<circle cx="251.5" cy="516.7" r="5.1" fill="#c9c9be" stroke="#5c5c5c" stroke-width="1.0"/>
<text class="m" transform="translate(258.4 520.8) scale(1 1.06)">2:36pm</text>
<circle cx="330.1" cy="516.7" r="5.1" fill="#c9c9be" stroke="#5c5c5c" stroke-width="1.0"/>
<text class="m" transform="translate(337.0 520.8) scale(1 1.06)">3:15pm</text>
<circle cx="408.7" cy="516.7" r="5.1" fill="#c9c9be" stroke="#5c5c5c" stroke-width="1.0"/>
<text class="m" transform="translate(415.6 520.8) scale(1 1.06)">3:53pm</text>
<circle cx="487.3" cy="516.7" r="5.1" fill="#c9c9be" stroke="#5c5c5c" stroke-width="1.0"/>
<text class="m" transform="translate(494.2 520.8) scale(1 1.06)">4:31pm</text>
<circle cx="565.9" cy="516.7" r="5.1" fill="#c9c9be" stroke="#5c5c5c" stroke-width="1.0"/>
<text class="m" transform="translate(572.8 520.8) scale(1 1.06)">5:09pm</text>
<circle cx="644.6" cy="516.7" r="5.1" fill="#c9c9be" stroke="#5c5c5c" stroke-width="1.0"/>
<text class="m" transform="translate(651.5 520.8) scale(1 1.06)">5:49pm</text>
<text class="n" transform="translate(650.3 533.0) scale(1 1.04)">New Moon</text>
<text class="m" transform="translate(652.5 534.6) scale(1 1.06)">| 8:48pm</text>
</svg>
</body>
</html>
